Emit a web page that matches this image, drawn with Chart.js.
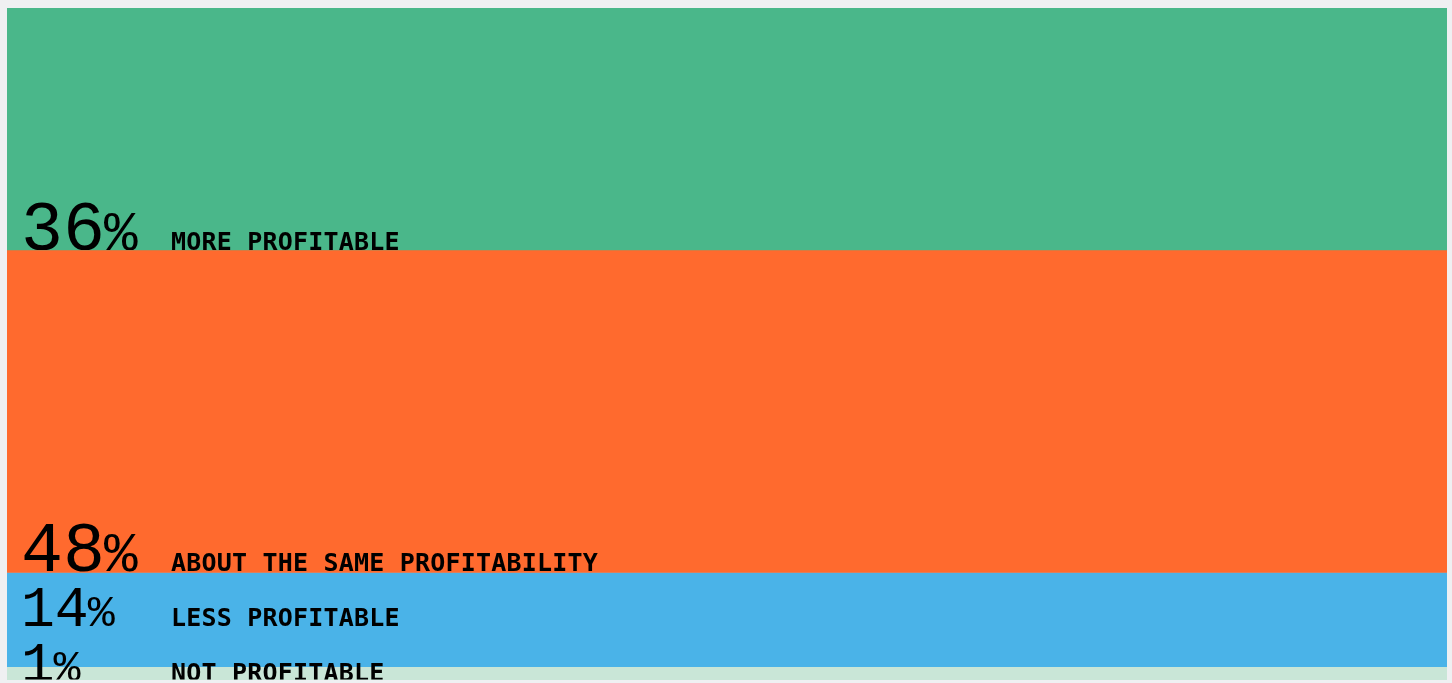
<!DOCTYPE html>
<html>
<head>
<meta charset="utf-8">
<title>Profitability</title>
<script src="https://cdn.jsdelivr.net/npm/chart.js@4/dist/chart.umd.min.js"></script>
<style>
  html, body { margin: 0; padding: 0; background: #eff0f2; overflow: hidden; }
  #wrap { position: absolute; left: 7px; top: 8px; width: 1440px; height: 672px; }
</style>
</head>
<body>
<div id="wrap"><canvas id="chart"></canvas></div>
<script>
// Share of respondents by profitability, listed top to bottom
const categories = ['MORE PROFITABLE', 'ABOUT THE SAME PROFITABILITY', 'LESS PROFITABLE', 'NOT PROFITABLE'];
const shares = [36, 48, 14, 1];
const bandColors = ['#4ab78a', '#ff6a2e', '#4ab3e8', '#c9e6d7'];

const datasets = categories.map((name, i) => ({
  label: name,
  data: [shares[i]],
  backgroundColor: bandColors[i],
  borderWidth: 0,
  minBarLength: 13,
  categoryPercentage: 1,
  barPercentage: 1
}));

// Writes the share and its name at the foot of each band
const bandLabels = {
  id: 'bandLabels',
  afterDatasetsDraw(chart) {
    const ctx = chart.ctx;
    const area = chart.chartArea;
    const bands = chart.data.datasets.map((ds, i) => {
      const bar = chart.getDatasetMeta(i).data[0];
      return { top: Math.min(bar.y, bar.base), bottom: Math.max(bar.y, bar.base) };
    });
    const n = bands.length;
    const baselines = new Array(n);
    baselines[n - 1] = bands[n - 1].bottom + 1;
    for (let i = n - 2; i >= 0; i--) {
      baselines[i] = Math.min(bands[i].bottom, baselines[i + 1] - 55);
    }
    bands.forEach((b, i) => {
      const h = b.bottom - b.top;
      const size = Math.min(70, Math.max(56, h * 0.6));
      const y = baselines[i];
      ctx.save();
      ctx.beginPath();
      ctx.rect(area.left, area.top, area.right - area.left, b.bottom - area.top);
      ctx.clip();
      ctx.fillStyle = '#000';
      ctx.textBaseline = 'alphabetic';
      ctx.textAlign = 'left';
      const num = String(chart.data.datasets[i].data[0]);
      ctx.font = '300 ' + size + 'px "Liberation Mono"';
      ctx.fillText(num, area.left + 14, y);
      const w = ctx.measureText(num).width;
      ctx.font = '400 ' + Math.round(size * 0.8) + 'px "Liberation Mono"';
      ctx.fillText('%', area.left + 14 + w - 1, y);
      ctx.font = 'bold 25px "DejaVu Sans Mono"';
      ctx.letterSpacing = '0.2px';
      ctx.fillText(chart.data.datasets[i].label, area.left + 164, y);
      ctx.restore();
    });
  }
};

new Chart(document.getElementById('chart'), {
  type: 'bar',
  data: { labels: [''], datasets },
  options: {
    responsive: true,
    maintainAspectRatio: false,
    animation: false,
    layout: { padding: 0 },
    plugins: { legend: { display: false }, tooltip: { enabled: false } },
    scales: {
      x: { stacked: true, display: false, offset: true },
      y: { stacked: true, display: false, reverse: true, min: 0, max: 100 }
    }
  },
  plugins: [bandLabels]
});
</script>
</body>
</html>
